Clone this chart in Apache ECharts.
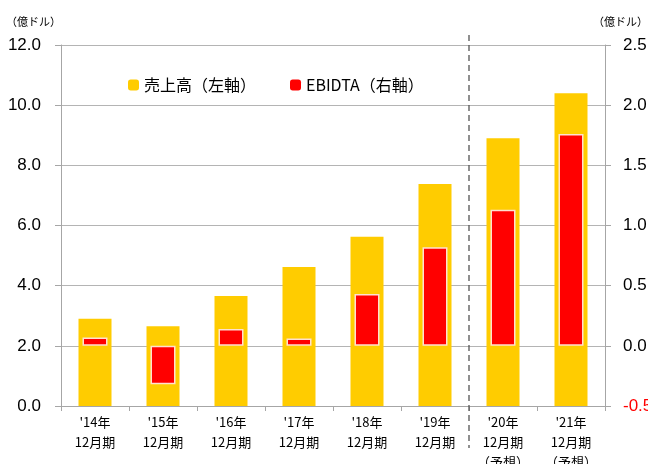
<!DOCTYPE html>
<html><head><meta charset="utf-8">
<script src="https://cdn.jsdelivr.net/npm/echarts@6/dist/echarts.min.js"></script>
<style>html,body{margin:0;padding:0;background:#fff}#c{width:648px;height:464px}</style>
</head><body><div id="c"></div>
<script>
const categories = ["'14年\n12月期","'15年\n12月期","'16年\n12月期","'17年\n12月期","'18年\n12月期","'19年\n12月期","'20年\n12月期\n（予想）","'21年\n12月期\n（予想）"];
const sales = [2.9, 2.65, 3.66, 4.62, 5.63, 7.38, 8.9, 10.4];
const ebitda = [0.07, -0.32, 0.14, 0.06, 0.43, 0.82, 1.13, 1.76];
const leftTicks = {min:0, max:12, interval:2};
const rightTicks = {min:-0.5, max:2.5, interval:0.5};
const salesName = '売上高（左軸）';
const ebitdaName = 'EBIDTA（右軸）';
const unitName = '（億ドル）';
const forecastBoundary = 6;

const FONT = '"Noto Sans CJK JP", "Liberation Sans", sans-serif';
const chart = echarts.init(document.getElementById('c'), null, {renderer:'canvas'});
const axisGray = '#a6a6a6';
chart.setOption({
  animation:false,
  textStyle:{fontFamily:FONT},
  grid:{left:61, right:43, top:45, bottom:58, containLabel:false, outerBoundsMode:'none'},
  legend:{
    left:123, top:72, itemWidth:11, itemHeight:11, itemGap:34,
    textStyle:{fontSize:16, color:'#000', fontFamily:FONT},
    data:[{name:salesName, itemStyle:{borderWidth:0}},{name:ebitdaName, itemStyle:{borderWidth:0}}]
  },
  xAxis:[
    {type:'category', data:categories,
     axisLine:{lineStyle:{color:axisGray}},
     axisTick:{show:true, length:5, lineStyle:{color:axisGray}},
     axisLabel:{color:'#000', fontSize:13, lineHeight:20, margin:6, interval:0}},
    {type:'category', data:categories, show:false},
    {type:'value', min:0, max:categories.length, show:false}
  ],
  yAxis:[
    {type:'value', min:leftTicks.min, max:leftTicks.max, interval:leftTicks.interval,
     name:unitName, nameLocation:'end', nameGap:18,
     nameTextStyle:{align:'right', fontSize:11, color:'#000', fontFamily:FONT},
     axisLine:{show:true, lineStyle:{color:axisGray}},
     axisTick:{show:true, length:6, lineStyle:{color:axisGray}},
     splitLine:{lineStyle:{color:'#b4b4b4', width:1}},
     axisLabel:{color:'#000', fontSize:17, margin:20, formatter:v=>v.toFixed(1), fontFamily:'"Liberation Sans", sans-serif'}},
    {type:'value', min:rightTicks.min, max:rightTicks.max, interval:rightTicks.interval, position:'right',
     name:unitName, nameLocation:'end', nameGap:18,
     nameTextStyle:{align:'left', fontSize:11, color:'#000', padding:[0,0,0,-12], fontFamily:FONT},
     axisLine:{show:true, lineStyle:{color:axisGray}},
     axisTick:{show:true, length:6, lineStyle:{color:axisGray}},
     splitLine:{show:false},
     axisLabel:{fontSize:17, margin:18, formatter:v=>v.toFixed(1), fontFamily:'"Liberation Sans", sans-serif',
       color:(v)=> (Number(v) < 0 ? '#ff0000' : '#000')}}
  ],
  series:[
    {name:salesName, type:'bar', xAxisIndex:0, yAxisIndex:0, data:sales, barWidth:33,
     itemStyle:{color:'#ffcc00'}},
    {name:ebitdaName, type:'bar', xAxisIndex:1, yAxisIndex:1, data:ebitda, barWidth:25,
     itemStyle:{color:'#ff0000', borderColor:'#ffe0d0', borderWidth:1.5}}
  ]
});
const gx = chart.convertToPixel({xAxisIndex:2}, forecastBoundary);
chart.setOption({graphic:[{type:'line', z:100, shape:{x1:gx, y1:35, x2:gx, y2:448},
  style:{stroke:'#555', lineWidth:1.3, lineDash:[6,4]}}]});
</script></body></html>
